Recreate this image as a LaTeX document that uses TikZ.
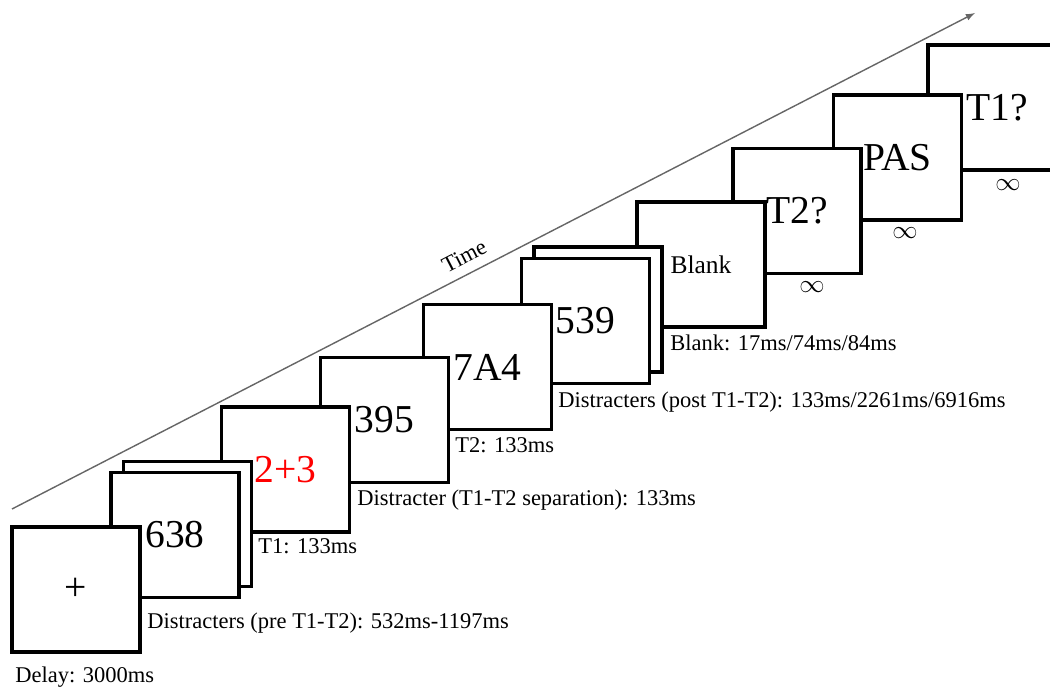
\documentclass[tikz,border=0pt]{standalone}
\usepackage{fontspec}
\setmainfont{Liberation Serif}

\begin{document}
\begin{tikzpicture}[
  screen/.style={draw, line width=1.8pt, fill=white, minimum width=2.56cm,
    minimum height=2.5cm, inner sep=0pt, font=\fontsize{22.5}{26}\selectfont},
  note/.style={anchor=north west, inner sep=0pt, font=\fontsize{12.8}{15}\selectfont},
  inf/.style={inner sep=0pt, font=\fontsize{15}{18}\selectfont}
]
\useasboundingbox (0,0) rectangle (21,13.76);

% Time axis
\coordinate (tstart) at (0.24,3.58);
\coordinate (tend) at (19.5,13.5);
\draw[-latex, black!60, line width=0.8pt] (tstart) -- (tend)
  node[pos=0.478, above=2pt, sloped, black, font=\fontsize{12.8}{15}\selectfont] {Time};

% Screens, from the last one back to the first
\node[screen, minimum width=2.76cm] (askone) at (19.94,11.61) {T1?};
\node[screen] (pas) at (17.95,10.61) {PAS};
\node[screen] (asktwo) at (15.94,9.54) {T2?};
\node[screen, font=\fontsize{14.5}{17}\selectfont] (blank) at (14.02,8.47) {Blank};
\node[screen] (postb) at (11.96,7.57) {};
\node[screen] (post) at (11.71,7.34) {539};
\node[screen] (ttwo) at (9.75,6.42) {7A4};
\node[screen] (sep) at (7.69,5.36) {395};
\node[screen, text=red] (tone) at (5.71,4.37) {2+3};
\node[screen] (preb) at (3.75,3.28) {};
\node[screen] (pre) at (3.50,3.06) {638};
\node[screen] (fix) at (1.52,1.97) {+};

% Durations
\node[note] (dfix) at (0.30,0.42) {Delay: 3000ms};
\node[note] (dpre) at (2.94,1.50) {Distracters (pre T1-T2): 532ms-1197ms};
\node[note] (done) at (5.16,3.00) {T1: 133ms};
\node[note] (dsep) at (7.14,3.96) {Distracter (T1-T2 separation): 133ms};
\node[note] (dtwo) at (9.10,5.02) {T2: 133ms};
\node[note] (dpost) at (11.16,5.92) {Distracters (post T1-T2): 133ms/2261ms/6916ms};
\node[note] (dblank) at (13.40,7.06) {Blank: 17ms/74ms/84ms};
\node[inf] (dasktwo) at (16.24,8.02) {$\infty$};
\node[inf] (dpas) at (18.10,9.10) {$\infty$};
\node[inf] (daskone) at (20.16,10.06) {$\infty$};

\end{tikzpicture}
\end{document}
